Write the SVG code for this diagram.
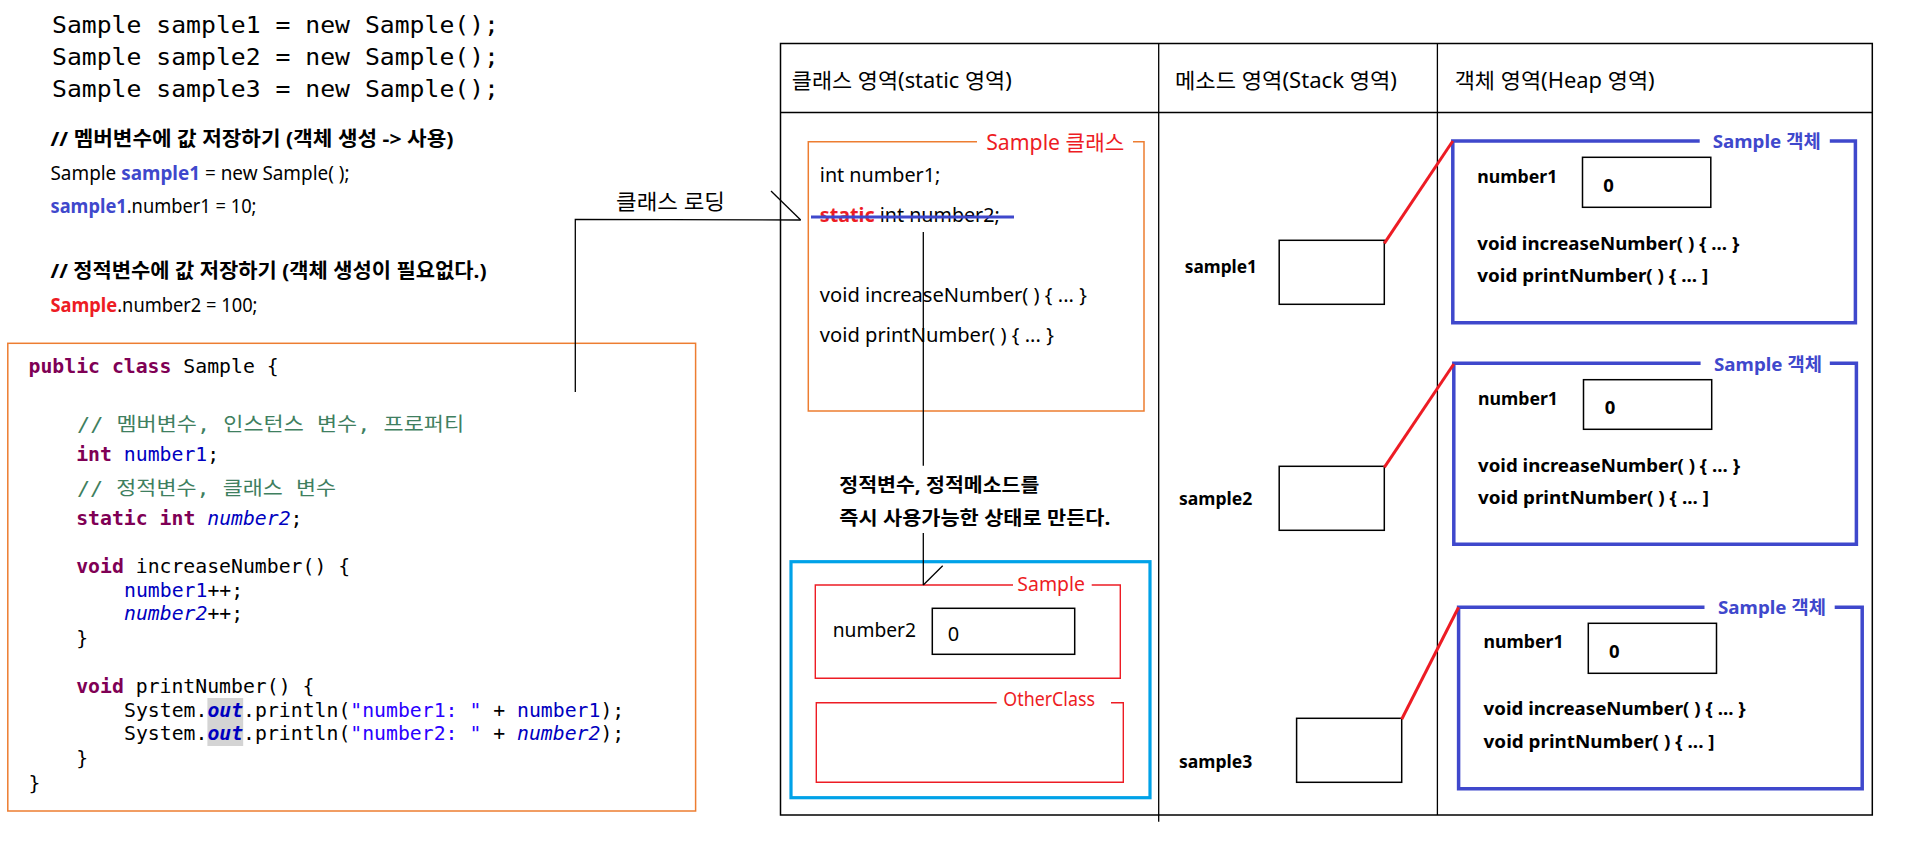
<svg xmlns="http://www.w3.org/2000/svg" width="1906" height="856" viewBox="0 0 1906 856">
<style>
.sans{font-family:'Noto Sans','Noto Sans CJK KR',sans-serif;}
.mono{font-family:'DejaVu Sans Mono','Noto Sans CJK KR',monospace;}
.big{font-size:23px;fill:#000;}
.ann{font-size:19px;fill:#000;}
.annb{font-size:20px;font-weight:bold;fill:#000;}
.code{font-size:19.8px;fill:#000;}
.kw{fill:#7f0055;font-weight:bold;}
.fld{fill:#0000c0;}
.sfld{fill:#0000c0;font-style:italic;}
.str{fill:#2a00ff;}
.cmt{fill:#3f7f5f;}
.hdr{font-size:21px;fill:#000;}
.cls{font-size:20px;fill:#000;}
.lbl{font-size:20px;}
.hb{font-size:18.5px;font-weight:bold;fill:#000;}
.note{font-size:19px;font-weight:bold;fill:#000;}
.red{fill:#ed1c24;}
.blue{fill:#3f48cc;}
.line{stroke:#000;stroke-width:1.3;fill:none;}
.box{stroke:#000;stroke-width:1.5;fill:#fff;}
.orange{stroke:#ed7d31;stroke-width:1.5;fill:none;}
.redbox{stroke:#ed1c24;stroke-width:1.4;fill:none;}
.heap{stroke:#3f48cc;stroke-width:3.5;fill:none;}
.ref{stroke:#ed1c24;stroke-width:3;fill:none;}
</style>
<rect width="1906" height="856" fill="#fff"/>

<g id="top-code" class="mono big">
<text x="52" y="33" textLength="447" lengthAdjust="spacingAndGlyphs">Sample sample1 = new Sample();</text>
<text x="52" y="65" textLength="447" lengthAdjust="spacingAndGlyphs">Sample sample2 = new Sample();</text>
<text x="52" y="97" textLength="447" lengthAdjust="spacingAndGlyphs">Sample sample3 = new Sample();</text>
</g>

<g id="annotations" class="sans">
<text class="annb" x="50.5" y="146" textLength="403" lengthAdjust="spacingAndGlyphs">// 멤버변수에 값 저장하기 (객체 생성 -&gt; 사용)</text>
<text class="ann" x="50.5" y="180" textLength="299" lengthAdjust="spacingAndGlyphs">Sample <tspan class="blue" font-weight="bold">sample1</tspan> = new Sample( );</text>
<text class="ann" x="50.5" y="213" textLength="206" lengthAdjust="spacingAndGlyphs"><tspan class="blue" font-weight="bold">sample1</tspan>.number1 = 10;</text>
<text class="annb" x="50.5" y="278" textLength="436" lengthAdjust="spacingAndGlyphs">// 정적변수에 값 저장하기 (객체 생성이 필요없다.)</text>
<text class="ann" x="50.5" y="312" textLength="207" lengthAdjust="spacingAndGlyphs"><tspan class="red" font-weight="bold">Sample</tspan>.number2 = 100;</text>
</g>

<g id="code-box">
<rect class="orange" x="7.8" y="343.3" width="687.8" height="467.7"/>
<rect x="207.4" y="698" width="35.8" height="48" fill="#d4d4d4"/>
<g class="mono code">
<text x="28.5" y="373"><tspan class="kw">public</tspan> <tspan class="kw">class</tspan> Sample {</text>
<text x="77" y="431" class="cmt" textLength="387" lengthAdjust="spacingAndGlyphs">// 멤버변수, 인스턴스 변수, 프로퍼티</text>
<text x="76.2" y="461"><tspan class="kw">int</tspan> <tspan class="fld">number1</tspan>;</text>
<text x="77" y="495" class="cmt" textLength="259" lengthAdjust="spacingAndGlyphs">// 정적변수, 클래스 변수</text>
<text x="76.2" y="525"><tspan class="kw">static</tspan> <tspan class="kw">int</tspan> <tspan class="sfld">number2</tspan>;</text>
<text x="76.2" y="573"><tspan class="kw">void</tspan> increaseNumber() {</text>
<text x="124" y="597"><tspan class="fld">number1</tspan>++;</text>
<text x="124" y="620"><tspan class="sfld">number2</tspan>++;</text>
<text x="76.2" y="645">}</text>
<text x="76.2" y="693"><tspan class="kw">void</tspan> printNumber() {</text>
<text x="124" y="717">System.<tspan class="sfld" font-weight="bold">out</tspan>.println(<tspan class="str">"number1: "</tspan> + <tspan class="fld">number1</tspan>);</text>
<text x="124" y="740">System.<tspan class="sfld" font-weight="bold">out</tspan>.println(<tspan class="str">"number2: "</tspan> + <tspan class="sfld">number2</tspan>);</text>
<text x="76.2" y="765">}</text>
<text x="28.5" y="790">}</text>
</g>
</g>

<g id="memory-table">
<rect x="780.5" y="43.5" width="1091.8" height="771.5" fill="none" stroke="#000" stroke-width="1.5"/>
<line class="line" x1="780.5" y1="112.5" x2="1872.3" y2="112.5" stroke-width="1.5"/>
<line class="line" x1="1158.7" y1="43.5" x2="1158.7" y2="821.7"/>
<line class="line" x1="1437.4" y1="43.5" x2="1437.4" y2="815"/>
<g class="sans hdr">
<text x="791.8" y="88" textLength="220" lengthAdjust="spacingAndGlyphs">클래스 영역(static 영역)</text>
<text x="1175" y="88" textLength="222" lengthAdjust="spacingAndGlyphs">메소드 영역(Stack 영역)</text>
<text x="1454.7" y="88" textLength="200" lengthAdjust="spacingAndGlyphs">객체 영역(Heap 영역)</text>
</g>
</g>

<g id="sample-class">
<path class="orange" d="M977 141.7 H808.3 V411 H1144 V141.7 H1133"/>
<text class="sans red" x="986.2" y="150" font-size="21" textLength="138" lengthAdjust="spacingAndGlyphs">Sample 클래스</text>
<g class="sans cls">
<text x="819.8" y="182" textLength="120.5" lengthAdjust="spacingAndGlyphs">int number1;</text>
<text x="819.8" y="222" textLength="180" lengthAdjust="spacingAndGlyphs"><tspan class="red" font-weight="bold">static</tspan> int number2;</text>
<text x="819.8" y="302" textLength="267" lengthAdjust="spacingAndGlyphs">void increaseNumber( ) { ... }</text>
<text x="819.8" y="342" textLength="234" lengthAdjust="spacingAndGlyphs">void printNumber( ) { ... }</text>
</g>
<line x1="811" y1="217" x2="1014" y2="217" stroke="#3f48cc" stroke-width="3"/>
</g>

<g id="static-area">
<rect x="791" y="561.7" width="359" height="236" fill="none" stroke="#00a2e8" stroke-width="3.2"/>
<g id="static-sample">
<path class="redbox" d="M1013 585 H815.3 V678.3 H1120.3 V585 H1091.7"/>
<text class="sans lbl red" x="1017.3" y="591" textLength="67.7" lengthAdjust="spacingAndGlyphs">Sample</text>
<text class="sans cls" x="832.7" y="637" textLength="83.3" lengthAdjust="spacingAndGlyphs">number2</text>
<rect class="box" x="932.3" y="608.3" width="142.4" height="46"/>
<text class="sans cls" x="947.7" y="641">0</text>
</g>
<g id="static-otherclass">
<path class="redbox" d="M996.7 702.7 H816.3 V782.3 H1123.3 V702.7 H1111"/>
<text class="sans lbl red" x="1003.3" y="706" textLength="91.7" lengthAdjust="spacingAndGlyphs">OtherClass</text>
</g>
</g>

<g id="stack">
<g id="stack-sample1">
<text class="sans hb" x="1184.7" y="273" textLength="72.3" lengthAdjust="spacingAndGlyphs">sample1</text>
<rect class="box" x="1279.2" y="240.3" width="105.1" height="64"/>
</g>
<g id="stack-sample2">
<text class="sans hb" x="1179" y="505" textLength="73.3" lengthAdjust="spacingAndGlyphs">sample2</text>
<rect class="box" x="1279.2" y="466.3" width="105.1" height="64"/>
</g>
<g id="stack-sample3">
<text class="sans hb" x="1179" y="768" textLength="73.3" lengthAdjust="spacingAndGlyphs">sample3</text>
<rect class="box" x="1296.6" y="718.3" width="105.1" height="64"/>
</g>
</g>

<g id="heap-object1">
<path class="heap" d="M1699.7 141 H1452.8 V322.7 H1855.4 V141 H1829.8"/>
<text class="sans hb blue" x="1712.7" y="148" textLength="108" lengthAdjust="spacingAndGlyphs">Sample 객체</text>
<text class="sans hb" x="1477.3" y="183" textLength="80" lengthAdjust="spacingAndGlyphs">number1</text>
<rect class="box" x="1582.5" y="157.3" width="128.3" height="50"/>
<text class="sans hb" x="1603.3" y="192">0</text>
<text class="sans hb" x="1477.3" y="250" textLength="262" lengthAdjust="spacingAndGlyphs">void increaseNumber( ) { ... }</text>
<text class="sans hb" x="1477.3" y="282" textLength="231" lengthAdjust="spacingAndGlyphs">void printNumber( ) { ... ]</text>
</g>

<g id="heap-object2">
<path class="heap" d="M1700.6 363.3 H1453.8 V544.3 H1856.4 V363.3 H1829.8"/>
<text class="sans hb blue" x="1714" y="371" textLength="108" lengthAdjust="spacingAndGlyphs">Sample 객체</text>
<text class="sans hb" x="1478" y="405" textLength="80" lengthAdjust="spacingAndGlyphs">number1</text>
<rect class="box" x="1583.5" y="379.7" width="128.2" height="49.6"/>
<text class="sans hb" x="1604.7" y="414">0</text>
<text class="sans hb" x="1478" y="472" textLength="262" lengthAdjust="spacingAndGlyphs">void increaseNumber( ) { ... }</text>
<text class="sans hb" x="1478" y="504" textLength="231" lengthAdjust="spacingAndGlyphs">void printNumber( ) { ... ]</text>
</g>

<g id="heap-object3">
<path class="heap" d="M1704.5 607.3 H1458.6 V788.7 H1862.2 V607.3 H1834.7"/>
<text class="sans hb blue" x="1718" y="614" textLength="108" lengthAdjust="spacingAndGlyphs">Sample 객체</text>
<text class="sans hb" x="1483.6" y="648" textLength="80" lengthAdjust="spacingAndGlyphs">number1</text>
<rect class="box" x="1588.3" y="623.3" width="128.2" height="50"/>
<text class="sans hb" x="1609" y="658">0</text>
<text class="sans hb" x="1483.6" y="715" textLength="262" lengthAdjust="spacingAndGlyphs">void increaseNumber( ) { ... }</text>
<text class="sans hb" x="1483.6" y="748" textLength="231" lengthAdjust="spacingAndGlyphs">void printNumber( ) { ... ]</text>
</g>

<g id="connectors">
<polyline class="line" points="575.3,392 575.3,219.3 800.7,220"/>
<line class="line" x1="771" y1="191" x2="800.7" y2="220" stroke-width="1"/>
<text class="sans" x="616" y="209" font-size="21" fill="#000" textLength="109" lengthAdjust="spacingAndGlyphs">클래스 로딩</text>
<line class="line" x1="923.3" y1="232" x2="923.3" y2="465.7"/>
<line class="line" x1="923.3" y1="533" x2="923.3" y2="585"/>
<line class="line" x1="923.3" y1="585" x2="942.7" y2="565.7" stroke-width="1"/>
<text class="sans note" x="839.3" y="492" textLength="200" lengthAdjust="spacingAndGlyphs">정적변수, 정적메소드를</text>
<text class="sans note" x="839.3" y="525" textLength="271" lengthAdjust="spacingAndGlyphs">즉시 사용가능한 상태로 만든다.</text>
<line class="ref" x1="1384.3" y1="243.3" x2="1452.8" y2="141"/>
<line class="ref" x1="1384.3" y1="467.3" x2="1453.8" y2="364"/>
<line class="ref" x1="1401.7" y1="719.3" x2="1458.6" y2="607.3"/>
</g>
</svg>
